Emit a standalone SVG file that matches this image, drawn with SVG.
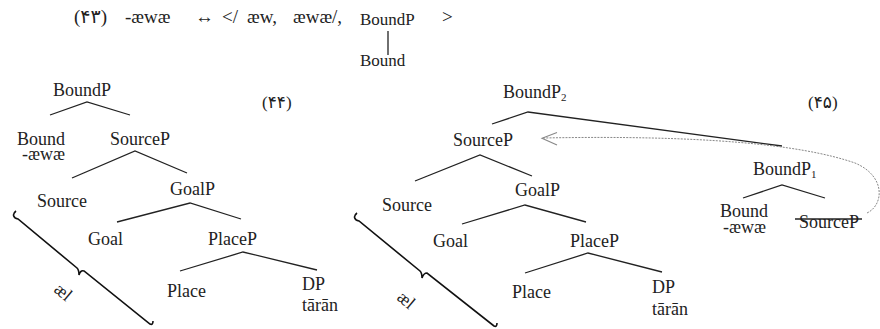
<svg xmlns="http://www.w3.org/2000/svg" width="880" height="329" viewBox="0 0 880 329">
<style>
text{font-family:"Liberation Serif","DejaVu Serif","DejaVu Sans",serif;fill:#222;}
.n{font-size:18px;}
.t{font-size:19px;}
.s{font-size:17px;}
.sub{font-size:11px;}
.e{stroke:#222;stroke-width:1.3;fill:none;}
.br{stroke:#111;stroke-width:1.6;fill:none;}
.arr{stroke:#888;stroke-width:1;fill:none;stroke-dasharray:2 1.2;}
</style>
<rect width="880" height="329" fill="#fff"/>
<g id="ex43">
<text class="t" x="74" y="23">(۴۳)</text>
<text class="t" x="125" y="23">-æwæ</text>
<text class="t" x="195" y="23">↔</text>
<text class="t" x="222" y="23">&lt;/</text>
<text class="t" x="247" y="23">æw,</text>
<text class="t" x="293" y="23">æwæ/,</text>
<text class="s" x="360" y="25">BoundP</text>
<line class="e" x1="388" y1="31" x2="388" y2="55"/>
<text class="s" x="360" y="66">Bound</text>
<text class="t" x="442" y="23">&gt;</text>
</g>
<g id="connectors">
<path class="e" d="M50,115 L87,102 L130,115"/>
<path class="e" d="M72,178 L135,151 L187,173"/>
<path class="e" d="M117,222 L190,203 L241,219"/>
<path class="e" d="M180,271 L243,252 L317,270"/>
<path class="e" d="M492,124 L528,112 L782,146"/>
<path class="e" d="M415,181 L480,155 L532,176"/>
<path class="e" d="M462,224 L525,205 L586,222"/>
<path class="e" d="M525,273 L588,253 L662,272"/>
<path class="e" d="M743,198 L782,185 L825,198"/>
<path class="arr" d="M543,138 C700,135 800,144 855,163 C886,176 884,205 867,213"/>
<path class="e" style="stroke:#888;stroke-width:1.1" d="M557,132.5 L542,138.3 L557,145"/>
</g>
<g id="tree44">
<text class="s" x="262" y="108">(۴۴)</text>
<g id="n44-BoundP"><text class="n" x="53" y="96">BoundP</text></g>
<g id="n44-Bound"><text class="n" x="17" y="145">Bound</text><text class="n" x="22" y="160">-æwæ</text></g>
<g id="n44-SourceP"><text class="n" x="110" y="145">SourceP</text></g>
<g id="n44-Source"><text class="n" x="37" y="207">Source</text></g>
<g id="n44-GoalP"><text class="n" x="170" y="195">GoalP</text></g>
<g id="n44-Goal"><text class="n" x="88" y="245">Goal</text></g>
<g id="n44-PlaceP"><text class="n" x="208" y="245">PlaceP</text></g>
<g id="n44-Place"><text class="n" x="167" y="297">Place</text></g>
<g id="n44-DP"><text class="n" x="302" y="290">DP</text><text class="n" x="302" y="311">tārān</text></g>
<g id="n44-brace">
<path class="br" d="M16,211 C12,214 13,218 18,219 L77,268 C79,270 79,272 79,275 C80,272 81,270 84,271 L150,324 C152,325 153,324 153,321"/>
<text class="n" transform="translate(53,291) rotate(40)">æl</text>
</g>
</g>
<g id="tree45">
<text class="s" x="808" y="108">(۴۵)</text>
<g id="n45-BoundP2"><text class="n" x="503" y="98">BoundP<tspan class="sub" dy="3">2</tspan></text></g>
<g id="n45-SourceP"><text class="n" x="453" y="146">SourceP</text></g>
<g id="n45-Source"><text class="n" x="382" y="211">Source</text></g>
<g id="n45-GoalP"><text class="n" x="515" y="196">GoalP</text></g>
<g id="n45-Goal"><text class="n" x="433" y="247">Goal</text></g>
<g id="n45-PlaceP"><text class="n" x="570" y="247">PlaceP</text></g>
<g id="n45-Place"><text class="n" x="512" y="298">Place</text></g>
<g id="n45-DP"><text class="n" x="652" y="293">DP</text><text class="n" x="652" y="315">tārān</text></g>
<g id="n45-BoundP1"><text class="n" x="753" y="175">BoundP<tspan class="sub" dy="3">1</tspan></text></g>
<g id="n45-Bound"><text class="n" x="720" y="217">Bound</text><text class="n" x="723" y="233">-æwæ</text></g>
<g id="n45-SourceP-struck"><text class="n" x="799" y="228">SourceP</text><line class="e" x1="795" y1="219" x2="862" y2="219"/></g>
<g id="n45-brace">
<path class="br" d="M357,213 C353,216 354,220 359,221 L420,271 C422,273 422,275 422,278 C423,275 424,273 427,273 L494,326 C496,327 497,326 497,323"/>
<text class="n" transform="translate(396,299) rotate(40)">æl</text>
</g>
</g>
</svg>
